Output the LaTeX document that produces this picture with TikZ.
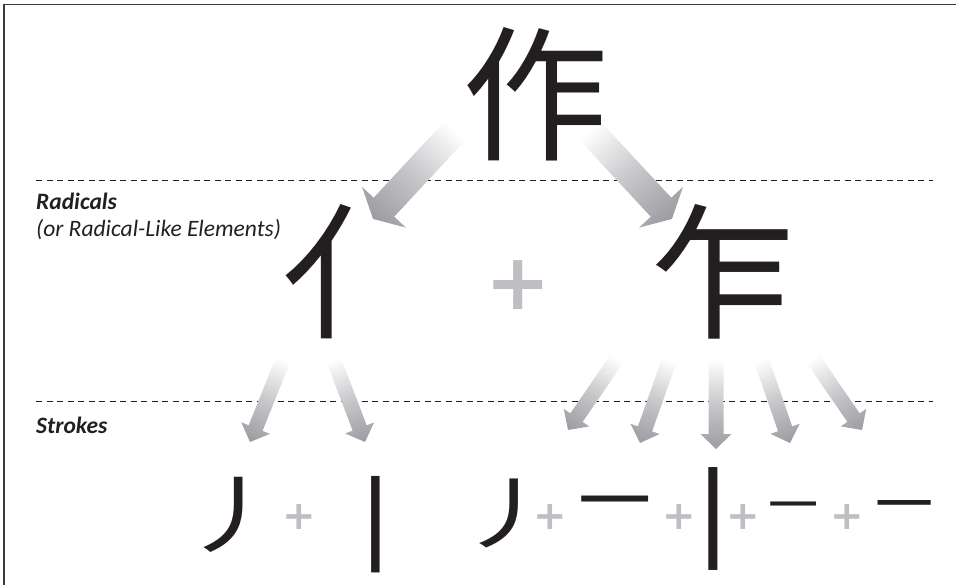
\documentclass[tikz,border=0pt]{standalone}
\usepackage{fontspec}
\setmainfont{Carlito}
\newfontfamily\cjk{Noto Sans CJK SC}
\newfontfamily\plusfont{DejaVu Sans}
\usetikzlibrary{calc}

\definecolor{ink}{RGB}{35,31,32}
\definecolor{plusgray}{RGB}{190,191,195}
\definecolor{arrowgray}{RGB}{155,156,161}
\definecolor{framegray}{RGB}{60,60,60}

\pgfdeclareverticalshading{arrowfade}{100bp}{color(0bp)=(arrowgray); color(25bp)=(arrowgray);
  color(48bp)=(arrowgray!55); color(70bp)=(white); color(100bp)=(white)}

\tikzset{
  hanzi/.style={inner sep=0pt, text=ink, font={\cjk\fontsize{#1}{#1}\selectfont}},
  plussign/.style={inner sep=0pt, text=plusgray, font={\plusfont\bfseries\fontsize{#1}{#1}\selectfont}},
  levelname/.style={anchor=base west, inner sep=0pt, text=ink, font={\fontsize{23.5}{28}\selectfont\bfseries\itshape}},
  sepline/.style={line width=0.9pt, ink, dash pattern=on 6pt off 4.5pt}
}

% #1 shaft half width, #2 head half width, #3 head length, #4 from, #5 to
\newcommand\fadearrow[5]{%
  \pgfmathanglebetweenpoints{\pgfpointanchor{#4}{center}}{\pgfpointanchor{#5}{center}}%
  \pgfmathsetmacro\fadeangle{\pgfmathresult+90}%
  \path let \p1=($(#5)-(#4)$), \n1={veclen(\x1,\y1)} in \pgfextra{\xdef\fadelen{\n1}};
  \begin{scope}[transform canvas={shift={(#4)}, rotate=\fadeangle}]
    \shade[shading=arrowfade] (-#1,0pt) -- ({-#1},{-\fadelen+#3}) -- ({-#2},{-\fadelen+#3})
      -- (0pt,{-\fadelen}) -- ({#2},{-\fadelen+#3}) -- ({#1},{-\fadelen+#3}) -- (#1,0pt) -- cycle;
  \end{scope}
}

\begin{document}
\begin{tikzpicture}[x=1pt, y=-1pt]
  \useasboundingbox (0,0) rectangle (956,585);
  % frame, top and left edge only
  \draw[framegray, line width=1.6pt] (4,585) -- (4,4.6) -- (956,4.6);

  % level separators
  \draw[sepline] (36,180) -- (933,180);
  \draw[sepline] (36,401) -- (933,401);

  % level names
  \node[levelname] (radicals) at (36,210) {Radicals};
  \node[levelname, font={\fontsize{23.5}{28}\selectfont\itshape}] (radnote) at (36,237) {(or Radical-Like Elements)};
  \node[levelname] (strokes) at (36,433) {Strokes};

  % arrows: character -> radicals
  \coordinate (zr-from) at (465,120);
  \coordinate (zr-to) at (373,219);
  \coordinate (zz-from) at (580,120);
  \coordinate (zz-to) at (672,219);
  \fadearrow{14pt}{30pt}{16pt}{zr-from}{zr-to}
  \fadearrow{14pt}{30pt}{16pt}{zz-from}{zz-to}

  % arrows: radicals -> strokes
  \coordinate (r1-from) at (287,350);
  \coordinate (r1-to) at (250,442);
  \coordinate (r2-from) at (330,350);
  \coordinate (r2-to) at (365,442);
  \coordinate (z1-from) at (623,350);
  \coordinate (z1-to) at (568,430);
  \coordinate (z2-from) at (673,350);
  \coordinate (z2-to) at (640,443);
  \coordinate (z3-from) at (716,350);
  \coordinate (z3-to) at (716,449);
  \coordinate (z4-from) at (758,350);
  \coordinate (z4-to) at (790,443);
  \coordinate (z5-from) at (807,350);
  \coordinate (z5-to) at (862,430);
  \foreach \a in {r1,r2,z1,z2,z3,z4,z5}{
    \fadearrow{7.5pt}{15.5pt}{15pt}{\a-from}{\a-to}
  }

  % character and radicals
  \node[hanzi=146] (zuo) at (535,94) {作};
  \node[hanzi=146] (ren) at (354,272) {亻};
  \node[plussign=78] (plus) at (518,285) {+};
  \node[hanzi=146] (zha) at (723,272) {乍};

  % strokes
  \node[hanzi=85, transform shape, xscale=1.25] (pie1) at (234,515) {丿};
  \node[plussign=40] (plus1) at (299,517) {+};
  \node[hanzi=105] (shu1) at (376,525) {丨};
  \node[hanzi=78, transform shape, xscale=1.35] (pie2) at (509,513) {丿};
  \node[plussign=40] (plus2) at (550,517) {+};
  \node[hanzi=73] (heng1) at (615,512) {一};
  \node[plussign=40] (plus3) at (679,517) {+};
  \node[hanzi=112] (shu2) at (713,519) {丨};
  \node[plussign=40] (plus4) at (743,517) {+};
  \node[hanzi=50] (heng2) at (793,513) {一};
  \node[plussign=40] (plus5) at (847,517) {+};
  \node[hanzi=58] (heng3) at (904,513) {一};
\end{tikzpicture}
\end{document}
